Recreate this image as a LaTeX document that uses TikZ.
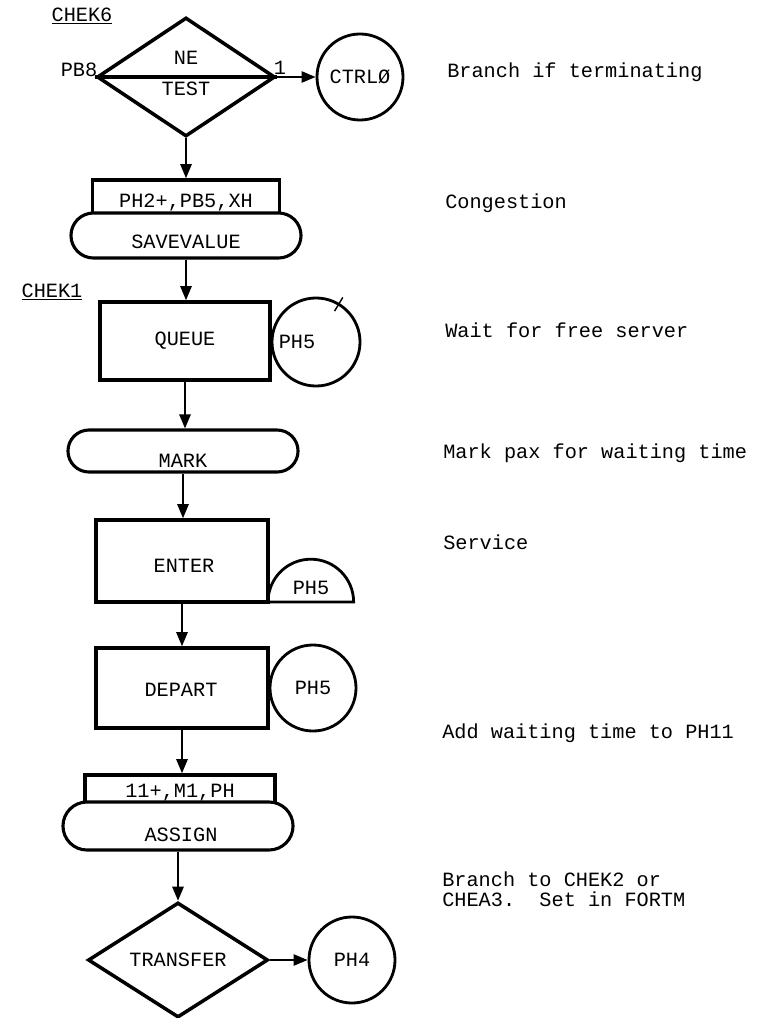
\documentclass[tikz,border=0pt]{standalone}
\usepackage{fontspec}
\setmainfont{Liberation Mono}
\usepackage{tikz}
\usetikzlibrary{arrows.meta,shapes.geometric,shapes.misc}

\begin{document}
\begin{tikzpicture}[x=0.025cm, y=-0.025cm, >={Triangle[length=10pt,width=8pt]},
  font=\fontsize{14.4}{14.5}\selectfont,
  blk/.style={draw, line width=2.5pt, rectangle, fill=white, inner sep=0pt},
  stad/.style={draw, line width=2.2pt, rounded rectangle, fill=white, inner sep=0pt, minimum width=5.75cm},
  dec/.style={draw, line width=2.5pt, diamond, inner sep=0pt},
  stor/.style={draw, line width=2pt, circle, inner sep=0pt, minimum size=2.15cm},
  flow/.style={->, line width=1.4pt},
  txt/.style={inner sep=0pt},
  note/.style={anchor=west, inner sep=0pt, align=left}]
\useasboundingbox (0,0) rectangle (775,1018);

\node[txt] (chek6) at (82,16) {\underline{CHEK6}};
\node[dec, minimum width=4.45cm, minimum height=2.975cm] (test) at (186,77) {};
\draw[line width=2.5pt] (test.west) -- (test.east);
\node[txt] (ne) at (186,58) {NE};
\node[txt] (testlbl) at (186,89) {TEST};
\node[txt] (pb) at (79,70) {PB8};
\node[txt] (one) at (280,68) {1};
\node[stor] (ctrl) at (360,77) {CTRLØ};
\draw[flow] (test.east) -- (ctrl);

\node[blk, minimum width=4.675cm, minimum height=0.9cm] (saverect) at (186,198) {};
\node[stad, minimum height=1.125cm] (savestad) at (186,235.5) {};
\node[txt] (savearg) at (186,203) {PH2+,PB5,XH};
\node[txt] (savelbl) at (186,242) {SAVEVALUE};
\draw[flow] (test.south) -- (test.south |- saverect.north);

\node[txt] (chek1) at (52,292) {\underline{CHEK1}};
\node[blk, minimum width=4.25cm, minimum height=1.95cm] (queue) at (185,341) {QUEUE};
\node[stor, minimum size=2.2cm] (qph) at (316,342) {};
\node[txt] (qphtxt) at (297,342) {PH5};
\draw[line width=1pt] (qph.center) ++(59:0.9cm) -- ++(59:0.4cm);
\draw[flow] (savestad.south) -- (savestad.south |- queue.north);

\node[stad, minimum height=1.05cm] (mark) at (183,451) {};
\node[txt] (marklbl) at (183,461) {MARK};
\draw[flow] (queue.south) -- (queue.south |- mark.north);

\node[blk, minimum width=4.3cm, minimum height=2.05cm] (enter) at (182,561) {};
\node[txt] (enterlbl) at (184,566) {ENTER};
\coordinate (ebase) at (268,602);
\draw[line width=2pt] (ebase) arc[start angle=180, end angle=0, radius=1.07cm] -- cycle;
\node[txt] (eph) at (311,588) {PH5};
\draw[flow] (mark.south) -- (mark.south |- enter.north);

\node[blk, minimum width=4.3cm, minimum height=2cm] (depart) at (182,688) {};
\node[txt] (departlbl) at (181,690) {DEPART};
\node[stor] (dph) at (313,688) {PH5};
\draw[flow] (enter.south) -- (enter.south |- depart.north);

\node[blk, minimum width=4.75cm, minimum height=0.75cm] (assignrect) at (180,790) {};
\node[stad, minimum height=1.2cm] (assignstad) at (178,826) {};
\node[txt] (assignarg) at (180,793) {11+,M1,PH};
\node[txt] (assignlbl) at (181,835) {ASSIGN};
\draw[flow] (depart.south) -- (depart.south |- assignrect.north);

\node[dec, minimum width=4.5cm, minimum height=2.875cm] (transfer) at (178,960) {TRANSFER};
\node[stor] (ph4) at (352,960) {PH4};
\draw[flow] (assignstad.south) -- (assignstad.south |- transfer.north);
\draw[flow] (transfer.east) -- (ph4);

\node[note] (n1) at (447,72) {Branch if terminating};
\node[note] (n2) at (445,203) {Congestion};
\node[note] (n3) at (445,330) {Wait for free server};
\node[note] (n4) at (443,453) {Mark pax for waiting time};
\node[note] (n5) at (443,542) {Service};
\node[note] (n6) at (442,733) {Add waiting time to PH11};
\node[note] (n7) at (442,889) {Branch to CHEK2 or\\CHEA3.\ \ Set in FORTM};
\end{tikzpicture}
\end{document}
